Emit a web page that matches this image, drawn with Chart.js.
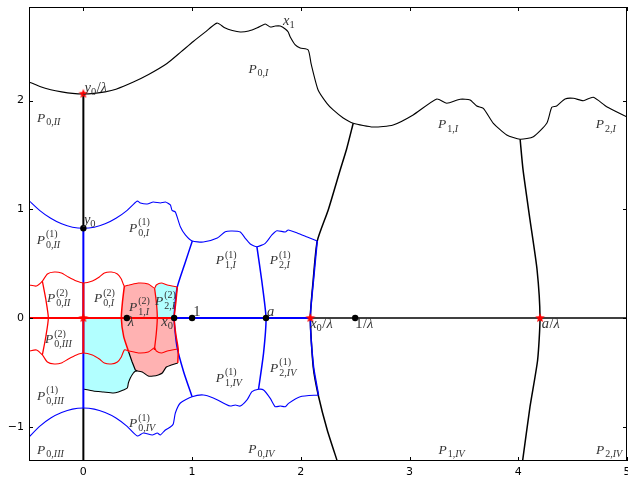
<!DOCTYPE html>
<html>
<head>
<meta charset="utf-8">
<script src="https://cdn.jsdelivr.net/npm/chart.js@4/dist/chart.umd.min.js"></script>
<style>
  html, body { margin: 0; padding: 0; background: #fff; }
  #wrap { width: 628px; height: 478px; }
</style>
</head>
<body>
<div id="wrap"><canvas id="c" width="628" height="478"></canvas></div>
<script>
// ---- axis ticks ----
const xTicks = [0, 1, 2, 3, 4, 5];
const yTicks = [-1, 0, 1, 2];

// ---- special points ----
const lambda = 0.4, x0 = 0.835, y0 = 0.825, a = 1.68;
const dotPoints = [[0, y0], [lambda, 0], [x0, 0], [1, 0], [a, 0], [1 / lambda, 0]];
const starPoints = [[0, 0], [0, y0 / lambda], [x0 / lambda, 0], [a / lambda, 0]];

// ---- level 0 boundary (black) ----
const outerBoundary = [
  [-0.5,2.171],[-0.4,2.13],[-0.3,2.10],[-0.2,2.08],[-0.1,2.066],[0,2.061],[0.1,2.066],[0.2,2.08],
  [0.3,2.105],[0.46,2.171],[0.6,2.24],[0.769,2.341],[0.9,2.45],[1.011,2.544],[1.12,2.63],[1.229,2.713],
  [1.3,2.67],[1.37,2.645],[1.443,2.631],[1.52,2.64],[1.6,2.67],[1.673,2.705],[1.719,2.677],[1.765,2.686],
  [1.811,2.686],[1.857,2.659],[1.884,2.631],[1.903,2.585],[1.949,2.512],[1.994,2.484],[2.068,2.466],
  [2.095,2.337],[2.159,2.098],[2.24,1.975],[2.298,1.914],[2.39,1.84],[2.482,1.792],[2.665,1.757],
  [2.849,1.776],[3.033,1.868],[3.251,2.015],[3.343,1.975],[3.465,2.012],[3.557,2.006],[3.618,1.950],
  [3.679,1.929],[3.771,1.791],[3.894,1.684],[4.017,1.644],[4.139,1.668],[4.262,1.791],[4.308,1.938],
  [4.353,1.950],[4.43,2.015],[4.507,2.021],[4.598,1.999],[4.69,2.03],[4.813,1.944],[5.0,1.85]
];
const blackArc1 = [[2.482,1.792],[2.42,1.55],[2.362,1.362],[2.252,0.994],[2.151,0.708],[2.114,0.35],
  [2.0875,0],[2.114,-0.451],[2.16,-0.708],[2.243,-1.03],[2.335,-1.316],[2.34,-1.33]];
const blackArc2 = [[4.017,1.644],[4.044,1.362],[4.108,0.902],[4.173,0.442],[4.2,0],[4.178,-0.386],
  [4.108,-0.816],[4.041,-1.306],[4.039,-1.33]];
const blackAxisUp = [[0, 0.825], [0, 2.061]];
const blackAxisDown = [[0, -0.828], [0, -1.33]];
const blackRealRay = [[2.0875, 0], [5, 0]];
const blackPinkEdge = [[0.416,-0.31],[0.447,-0.4],[0.478,-0.478],[0.496,-0.488]];
const blackBasin = [[0,-0.653],[0.092,-0.672],[0.184,-0.681],[0.276,-0.69],[0.322,-0.681],[0.368,-0.662],
  [0.404,-0.644],[0.414,-0.598],[0.432,-0.552],[0.46,-0.506],[0.478,-0.49],[0.496,-0.488],[0.542,-0.497],
  [0.597,-0.534],[0.643,-0.534],[0.689,-0.524],[0.726,-0.506],[0.763,-0.451],[0.809,-0.432],[0.868,-0.414]];

// ---- level 1 boundary (blue) ----
const blueTop = [[-0.5,1.08],[-0.4,0.988],[-0.3,0.917],[-0.2,0.866],[-0.1,0.835],[0,0.825],[0.1,0.835],
  [0.2,0.866],[0.3,0.917],[0.4,0.988],[0.496,1.076],[0.524,1.058],[0.588,1.049],[0.643,1.067],[0.708,1.058],
  [0.754,1.067],[0.8,1.04],[0.816,0.99],[0.846,0.975],[0.892,0.84],[0.938,0.765],[1.002,0.708],[1.103,0.699],
  [1.232,0.736],[1.305,0.794],[1.369,0.8],[1.443,0.791],[1.489,0.733],[1.535,0.681],[1.596,0.656],
  [1.673,0.687],[1.734,0.764],[1.78,0.803],[1.857,0.791],[1.884,0.81],[1.967,0.782],[2.059,0.745],[2.151,0.708]];
const blueX0Line = [[1.002,0.708],[0.93,0.49],[0.861,0.273],[0.835,0],[0.861,-0.264],[0.922,-0.494],[1.0,-0.724]];
const blueALine = [[1.596,0.656],[1.642,0.334],[1.68,0],[1.657,-0.325],[1.611,-0.656]];
const blueRightArc = [[2.151,0.708],[2.117,0.35],[2.0875,0],[2.117,-0.448],[2.163,-0.708]];
const blueBottom = [[2.163,-0.708],[1.994,-0.724],[1.887,-0.785],[1.857,-0.816],[1.811,-0.81],[1.765,-0.816],
  [1.719,-0.739],[1.657,-0.662],[1.611,-0.656],[1.551,-0.678],[1.505,-0.754],[1.443,-0.81],[1.397,-0.8],
  [1.351,-0.81],[1.305,-0.791],[1.195,-0.736],[1.103,-0.708],[1.0,-0.724],[0.892,-0.782],[0.846,-0.874],
  [0.827,-0.975],[0.8,-1.003],[0.754,-1.03],[0.708,-1.076],[0.68,-1.058],[0.634,-1.076],[0.551,-1.058],
  [0.496,-1.086],[0.4,-0.995],[0.3,-0.92],[0.2,-0.87],[0.1,-0.838],[0,-0.828],[-0.1,-0.838],[-0.2,-0.87],
  [-0.3,-0.92],[-0.4,-0.995],[-0.5,-1.095]];
const blueAxis = [[0, 0.825], [0, -0.828]];
const blueRealSeg = [[0.835, 0], [2.0875, 0]];

// ---- level 2 boundary (red) ----
const redTop = [[-0.5,0.304],[-0.432,0.294],[-0.377,0.34],[-0.331,0.405],[-0.267,0.423],[-0.202,0.414],
  [-0.138,0.377],[-0.064,0.34],[0,0.322],[0.083,0.34],[0.147,0.377],[0.193,0.414],[0.257,0.423],[0.313,0.405],
  [0.349,0.359],[0.377,0.294],[0.423,0.304],[0.506,0.322],[0.597,0.313],[0.655,0.274],[0.671,0.304],
  [0.717,0.322],[0.772,0.304],[0.864,0.285]];
const redBottom = [[-0.5,-0.304],[-0.432,-0.294],[-0.377,-0.34],[-0.331,-0.405],[-0.267,-0.423],[-0.202,-0.414],
  [-0.138,-0.377],[-0.064,-0.34],[0,-0.322],[0.083,-0.34],[0.147,-0.377],[0.193,-0.414],[0.257,-0.423],
  [0.313,-0.405],[0.349,-0.359],[0.377,-0.294],[0.423,-0.304],[0.506,-0.322],[0.597,-0.313],[0.655,-0.274],
  [0.671,-0.304],[0.717,-0.322],[0.772,-0.304],[0.864,-0.285]];
const redLeftArc = [[-0.377,0.34],[-0.345,0.17],[-0.322,0],[-0.345,-0.17],[-0.377,-0.34]];
const redAxis = [[0, 0.322], [0, -0.322]];
const redRealSeg = [[-0.5, 0], [0.835, 0]];
const redPinkLeft = [[0.377,0.294],[0.36,0.15],[0.349,0],[0.371,-0.172],[0.416,-0.31]];
const redInner = [[0.655,0.274],[0.672,0.14],[0.68,0],[0.67,-0.15],[0.653,-0.294]];
const redRight = [[0.864,0.285],[0.85,0.14],[0.835,0],[0.85,-0.15],[0.873,-0.294],[0.868,-0.414]];

// ---- shaded regions ----
const pinkRegion = [[0.377,0.294],[0.423,0.304],[0.506,0.322],[0.597,0.313],[0.655,0.274],[0.672,0.14],
  [0.68,0],[0.835,0],[0.85,-0.15],[0.873,-0.294],[0.868,-0.414],[0.809,-0.432],[0.763,-0.451],[0.726,-0.506],
  [0.689,-0.524],[0.643,-0.534],[0.597,-0.534],[0.542,-0.497],[0.496,-0.488],[0.478,-0.478],[0.447,-0.4],
  [0.416,-0.31],[0.371,-0.172],[0.349,0],[0.36,0.15],[0.377,0.294]];
const cyanUpper = [[0.655,0.274],[0.671,0.304],[0.717,0.322],[0.772,0.304],[0.864,0.285],[0.85,0.14],
  [0.835,0],[0.68,0],[0.672,0.14],[0.655,0.274]];
const cyanLower = [[0,0],[0.349,0],[0.371,-0.172],[0.416,-0.31],[0.447,-0.4],[0.478,-0.478],[0.46,-0.506],
  [0.432,-0.552],[0.414,-0.598],[0.404,-0.644],[0.368,-0.662],[0.322,-0.681],[0.276,-0.69],[0.184,-0.681],
  [0.092,-0.672],[0,-0.653],[0,0]];

// ---- region names: [letter, subscript, superscript, centre x, baseline y] ----
const regionLabels = [
  ['P','0,I','',1.61,2.257], ['P','0,II','',-0.319,1.806], ['P','1,I','',3.355,1.745], ['P','2,I','',4.805,1.745],
  ['P','0,I','(1)',0.515,0.794], ['P','0,II','(1)',-0.322,0.681], ['P','1,I','(1)',1.313,0.494],
  ['P','2,I','(1)',1.81,0.494], ['P','0,II','(2)',-0.227,0.144], ['P','0,I','(2)',0.193,0.144],
  ['P','1,I','(2)',0.515,0.067], ['P','2,I','(2)',0.754,0.12], ['P','0,III','(2)',-0.23,-0.233],
  ['P','0,III','(1)',-0.303,-0.754], ['P','0,III','',-0.303,-1.251], ['P','0,IV','(1)',0.54,-1.006],
  ['P','0,IV','',1.636,-1.245], ['P','1,IV','(1)',1.337,-0.586], ['P','2,IV','(1)',1.838,-0.494],
  ['P','1,IV','',3.387,-1.251], ['P','2,IV','',4.835,-1.251]
];
// ---- point names: [symbol, subscript, tail, left x, baseline y] ----
const pointLabels = [
  ['y','0','/λ',0.01,2.082], ['y','0','',0.005,0.865], ['x','1','',1.837,2.695],
  ['1','','',1.011,0.021], ['a','','',1.688,0.021], ['λ','','',0.409,-0.074],
  ['x','0','',0.717,-0.074], ['x','0','/λ',2.086,-0.095], ['1','','/λ',2.5,-0.095], ['a','','/λ',4.216,-0.095]
];

const toXY = arr => arr.map(([x, y]) => ({ x, y }));
function line(arr, color, width, tension) {
  return { data: toXY(arr), showLine: true, borderColor: color, borderWidth: width,
           pointRadius: 0, fill: false, tension: tension || 0 };
}
function area(arr, color) {
  return { data: toXY(arr), showLine: true, borderWidth: 0, borderColor: 'rgba(0,0,0,0)',
           backgroundColor: color, pointRadius: 0, fill: 'shape', tension: 0 };
}
function starImage(r, color) {
  const c = document.createElement('canvas');
  c.width = c.height = 2 * r + 2;
  const g = c.getContext('2d');
  g.fillStyle = color;
  g.beginPath();
  for (let i = 0; i < 10; i++) {
    const ang = -Math.PI / 2 + i * Math.PI / 5;
    const rr = i % 2 ? r * 0.45 : r;
    g.lineTo(r + 1 + rr * Math.cos(ang), r + 1 + rr * Math.sin(ang));
  }
  g.closePath();
  g.fill();
  return c;
}

const BLUE = '#0000ff', RED = '#ff0000', BLACK = '#000000';
// listed bottom layer first
const layers = [
  area(cyanLower, 'rgba(0,255,255,0.3)'),
  area(cyanUpper, 'rgba(0,255,255,0.3)'),
  area(pinkRegion, 'rgba(255,0,0,0.3)'),
  line(outerBoundary, BLACK, 1.1, 0.2),
  line(blackArc1, BLACK, 1.5, 0.2),
  line(blackArc2, BLACK, 1.5, 0.2),
  line(blackAxisUp, BLACK, 2),
  line(blackAxisDown, BLACK, 2),
  line(blackRealRay, BLACK, 1.5),
  line(blackPinkEdge, BLACK, 1.2),
  line(blackBasin, BLACK, 1.1, 0.2),
  line(blueTop, BLUE, 1.1, 0.2),
  line(blueBottom, BLUE, 1.1, 0.2),
  line(blueX0Line, BLUE, 1.5, 0.2),
  line(blueALine, BLUE, 1.5, 0.2),
  line(blueRightArc, BLUE, 1.5, 0.2),
  line(blueAxis, BLUE, 2),
  line(blueRealSeg, BLUE, 2),
  line(redTop, RED, 1.1, 0.2),
  line(redBottom, RED, 1.1, 0.2),
  line(redLeftArc, RED, 1.3, 0.2),
  line(redPinkLeft, RED, 1.5, 0.2),
  line(redInner, RED, 1.3, 0.2),
  line(redRight, RED, 1.5, 0.2),
  line(redAxis, RED, 2),
  line(redRealSeg, RED, 2),
  { data: toXY(dotPoints), showLine: false, pointRadius: 3.2, pointBackgroundColor: BLACK, pointBorderWidth: 0 },
  { data: toXY(starPoints), showLine: false, pointStyle: starImage(5, RED), pointRadius: 5 }
];
layers.forEach((d, i) => { d.order = layers.length - i; });

const SERIF = '"Liberation Serif", "DejaVu Serif", serif';
function fontFor(ch, size) {
  return (/[A-Za-zλ]/.test(ch) ? 'italic ' : '') + size + 'px ' + SERIF;
}
function runWidth(ctx, s, size) {
  let w = 0;
  for (const ch of s) { ctx.font = fontFor(ch, size); w += ctx.measureText(ch).width; }
  return w;
}
function drawRun(ctx, s, size, x, y) {
  for (const ch of s) { ctx.font = fontFor(ch, size); ctx.fillText(ch, x, y); x += ctx.measureText(ch).width; }
  return x;
}

const annotate = {
  id: 'annotate',
  afterDraw(chart) {
    const ctx = chart.ctx, ca = chart.chartArea;
    const xs = chart.scales.x, ys = chart.scales.y;
    ctx.save();
    // frame
    ctx.strokeStyle = '#000';
    ctx.lineWidth = 1;
    ctx.strokeRect(Math.round(ca.left) + 0.5, Math.round(ca.top) + 0.5,
                   Math.round(ca.right - ca.left) - 1, Math.round(ca.bottom - ca.top) - 1);
    // inward ticks on all four sides
    ctx.beginPath();
    xTicks.forEach(v => {
      const px = Math.round(xs.getPixelForValue(v)) + 0.5;
      ctx.moveTo(px, ca.bottom); ctx.lineTo(px, ca.bottom - 4);
      ctx.moveTo(px, ca.top); ctx.lineTo(px, ca.top + 4);
    });
    yTicks.forEach(v => {
      const py = Math.round(ys.getPixelForValue(v)) + 0.5;
      ctx.moveTo(ca.left, py); ctx.lineTo(ca.left + 4, py);
      ctx.moveTo(ca.right, py); ctx.lineTo(ca.right - 4, py);
    });
    ctx.stroke();

    ctx.fillStyle = '#333';
    ctx.textBaseline = 'alphabetic';
    ctx.textAlign = 'left';
    const BIG = 13.5, SMALL = 10;
    regionLabels.forEach(([m, sub, sup, x, y]) => {
      const wm = runWidth(ctx, m, BIG);
      const ws = Math.max(runWidth(ctx, sub, SMALL), runWidth(ctx, sup, SMALL));
      const total = wm + 1 + ws;
      let px = xs.getPixelForValue(x) - total / 2;
      const py = ys.getPixelForValue(y);
      px = drawRun(ctx, m, BIG, px, py) + 1;
      drawRun(ctx, sub, SMALL, px, py + (sup ? 4 : 3.5));
      if (sup) drawRun(ctx, sup, SMALL, px, py - 6.5);
    });
    pointLabels.forEach(([m, sub, tail, x, y]) => {
      let px = xs.getPixelForValue(x);
      const py = ys.getPixelForValue(y);
      px = drawRun(ctx, m, 14.5, px, py);
      if (sub) px = drawRun(ctx, sub, 10.5, px, py + 3);
      if (tail) drawRun(ctx, tail, 14.5, px + 0.5, py);
    });
    ctx.restore();
  }
};

const tickFmt = v => (v < 0 ? '\u2212' + Math.abs(v) : String(v));

new Chart(document.getElementById('c'), {
  type: 'scatter',
  data: { datasets: layers },
  options: {
    responsive: false,
    animation: false,
    events: [],
    layout: { autoPadding: false, padding: { top: 7, right: 1, left: 0, bottom: 0 } },
    plugins: { legend: { display: false }, tooltip: { enabled: false } },
    scales: {
      x: {
        type: 'linear', min: -0.5, max: 5,
        grid: { display: false, drawTicks: false }, border: { display: false },
        ticks: { color: '#000', padding: 5, font: { family: 'DejaVu Sans', size: 11 }, callback: tickFmt },
        afterBuildTicks: s => { s.ticks = xTicks.map(v => ({ value: v })); },
        afterFit: s => { s.height = 17; s.paddingLeft = 0; s.paddingRight = 0; }
      },
      y: {
        type: 'linear', min: -1.3155, max: 2.861,
        grid: { display: false, drawTicks: false }, border: { display: false },
        ticks: { color: '#000', padding: 5, font: { family: 'DejaVu Sans', size: 11 }, callback: tickFmt },
        afterBuildTicks: s => { s.ticks = yTicks.map(v => ({ value: v })); },
        afterFit: s => { s.width = 29; s.paddingTop = 0; s.paddingBottom = 0; }
      }
    }
  },
  plugins: [annotate]
});
</script>
</body>
</html>
